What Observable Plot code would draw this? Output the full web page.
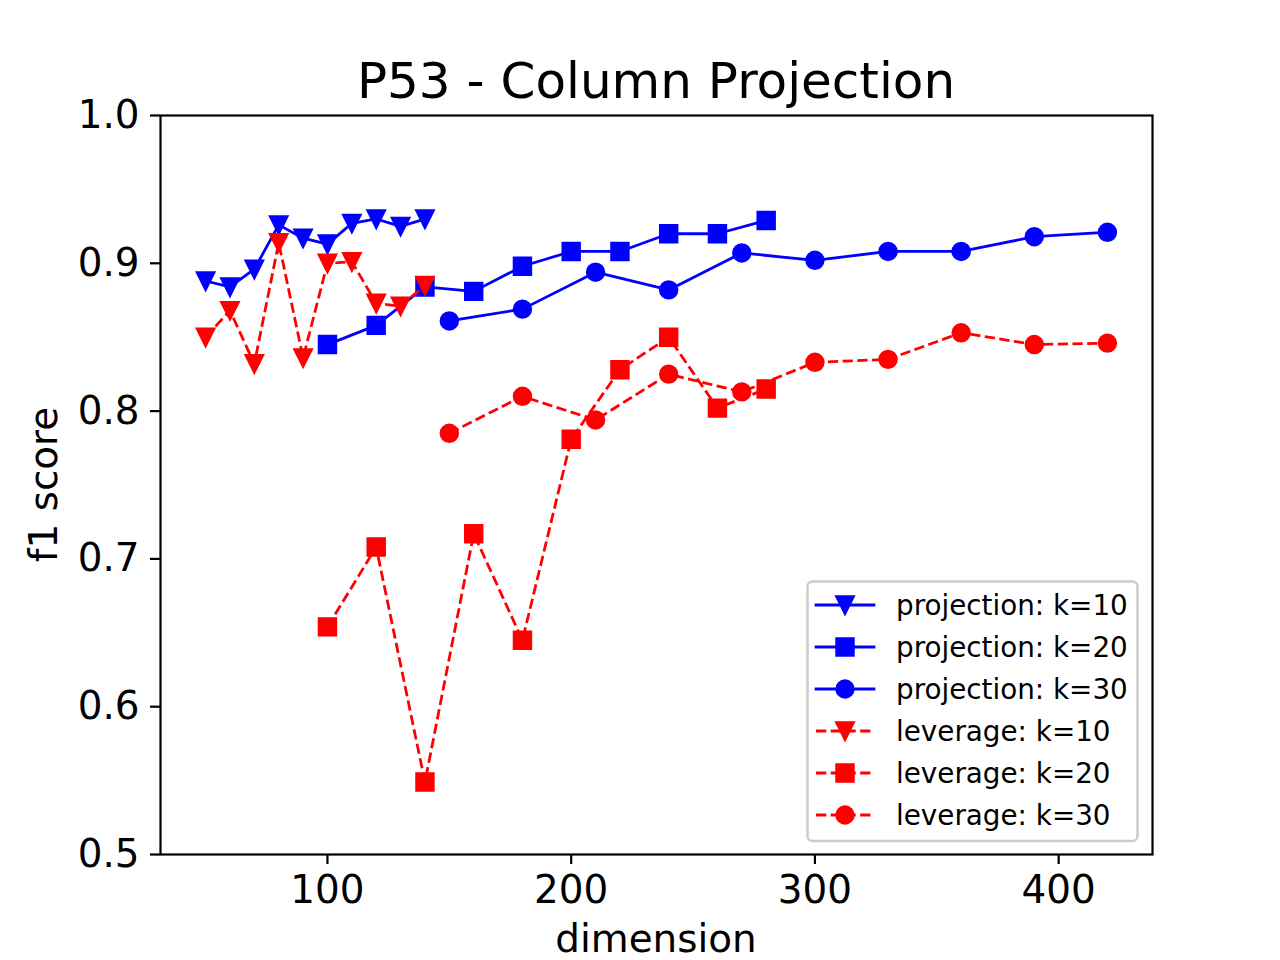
<!DOCTYPE html>
<html><head><meta charset="utf-8">
<script src="https://cdn.jsdelivr.net/npm/d3@7"></script>
<script src="https://cdn.jsdelivr.net/npm/@observablehq/plot@0.6"></script>
<style>html,body{margin:0;padding:0;background:#fff;} svg{display:block}</style>
</head><body><div id="chart"></div>
<script>
// ---- data ----
const dimK10 = [50, 60, 70, 80, 90, 100, 110, 120, 130, 140];
const dimK20 = [100, 120, 140, 160, 180, 200, 220, 240, 260, 280];
const dimK30 = [150, 180, 210, 240, 270, 300, 330, 360, 390, 420];
const projectionK10 = [0.888, 0.884, 0.896, 0.926, 0.917, 0.913, 0.927, 0.930, 0.925, 0.930];
const projectionK20 = [0.845, 0.858, 0.884, 0.881, 0.898, 0.908, 0.908, 0.920, 0.920, 0.929];
const projectionK30 = [0.861, 0.869, 0.894, 0.882, 0.907, 0.902, 0.908, 0.908, 0.918, 0.921];
const leverageK10 = [0.850, 0.868, 0.832, 0.914, 0.836, 0.900, 0.901, 0.873, 0.871, 0.885];
const leverageK20 = [0.654, 0.708, 0.549, 0.717, 0.645, 0.781, 0.828, 0.850, 0.802, 0.815];
const leverageK30 = [0.785, 0.810, 0.794, 0.825, 0.813, 0.833, 0.835, 0.853, 0.845, 0.846];
const xTicks = [100, 200, 300, 400];
const yTicks = [0.5, 0.6, 0.7, 0.8, 0.9, 1.0];
const seriesLabels = ["projection: k=10", "projection: k=20", "projection: k=30",
                      "leverage: k=10", "leverage: k=20", "leverage: k=30"];
const titleText = "P53 - Column Projection";
const xLabel = "dimension";
const yLabel = "f1 score";

// ---- styling ----
const FONT = "DejaVu Sans";
const LW = 2.78, MS = 8.33, MEW = 2.78;
const DASH = "10.28,4.44";

const triDown = {draw(ctx, size) { const r = Math.sqrt(size / Math.PI);
  ctx.moveTo(0, r); ctx.lineTo(-r, -r); ctx.lineTo(r, -r); ctx.closePath(); }};
const squareSym = {draw(ctx, size) { const r = Math.sqrt(size / Math.PI);
  ctx.moveTo(-r, -r); ctx.lineTo(r, -r); ctx.lineTo(r, r); ctx.lineTo(-r, r); ctx.closePath(); }};
const circleSym = {draw(ctx, size) { const r = Math.sqrt(size / Math.PI);
  ctx.moveTo(r, 0); ctx.arc(0, 0, r, 0, 2 * Math.PI); }};

const series = [
  {label: seriesLabels[0], xs: dimK10, ys: projectionK10, color: "blue", dashed: false, sym: triDown},
  {label: seriesLabels[1], xs: dimK20, ys: projectionK20, color: "blue", dashed: false, sym: squareSym},
  {label: seriesLabels[2], xs: dimK30, ys: projectionK30, color: "blue", dashed: false, sym: circleSym},
  {label: seriesLabels[3], xs: dimK10, ys: leverageK10, color: "red", dashed: true, sym: triDown},
  {label: seriesLabels[4], xs: dimK20, ys: leverageK20, color: "red", dashed: true, sym: squareSym},
  {label: seriesLabels[5], xs: dimK30, ys: leverageK30, color: "red", dashed: true, sym: circleSym}
];

const marks = [];
for (const s of series) {
  const data = s.xs.map((x, i) => ({x, y: s.ys[i]}));
  marks.push(Plot.line(data, {x: "x", y: "y", stroke: s.color, strokeWidth: LW,
    strokeDasharray: s.dashed ? DASH : null,
    strokeLinecap: s.dashed ? "butt" : "square", strokeLinejoin: "round"}));
  marks.push(Plot.dot(data, {x: "x", y: "y", symbol: s.sym, r: MS, fill: s.color,
    stroke: s.color, strokeWidth: MEW, strokeLinejoin: "miter"}));
}

const W = 1280, H = 960;
const ML = 160, MR = 128, MT = 115, MB = 106;

const svgEl = Plot.plot({
  width: W, height: H,
  marginLeft: ML, marginRight: MR, marginTop: MT, marginBottom: MB,
  style: {fontFamily: FONT, fontSize: "38.9px", background: "white", color: "black", overflow: "visible"},
  x: {domain: [31.5, 438.5]},
  y: {domain: [0.5, 1.0]},
  marks: [
    ...marks,
    Plot.frame({stroke: "black", strokeWidth: 2.2}),
    Plot.axisX({ticks: xTicks, tickSize: 10, tickPadding: 11, strokeWidth: 2.2, label: null, fontSize: 38.9}),
    Plot.axisY({ticks: yTicks, tickFormat: d3.format(".1f"), tickSize: 10, tickPadding: 11, strokeWidth: 2.2, label: null, fontSize: 38.9})
  ]
});
document.getElementById("chart").appendChild(svgEl);

const svg = d3.select(svgEl);
const cx = ML + (W - ML - MR) / 2;
svg.append("text").attr("x", cx).attr("y", 98).attr("text-anchor", "middle")
  .attr("font-family", FONT).attr("font-size", 50).attr("fill", "black").text(titleText);
svg.append("text").attr("x", cx).attr("y", 952).attr("text-anchor", "middle")
  .attr("font-family", FONT).attr("font-size", 38.9).attr("fill", "black").text(xLabel);
svg.append("text").attr("transform", `translate(57,${MT + (H - MT - MB) / 2}) rotate(-90)`)
  .attr("text-anchor", "middle")
  .attr("font-family", FONT).attr("font-size", 38.9).attr("fill", "black").text(yLabel);

// ---- legend ----
const lg = svg.append("g");
lg.append("rect").attr("x", 807.5).attr("y", 581.5).attr("width", 330).attr("height", 259.5)
  .attr("rx", 5).attr("fill", "white").attr("fill-opacity", 0.8)
  .attr("stroke", "#cccccc").attr("stroke-width", 2.5);
series.forEach((s, i) => {
  const yy = 605 + i * 42;
  lg.append("line").attr("x1", 816).attr("x2", 874).attr("y1", yy).attr("y2", yy)
    .attr("stroke", s.color).attr("stroke-width", LW)
    .attr("stroke-dasharray", s.dashed ? DASH : null)
    .attr("stroke-linecap", s.dashed ? "butt" : "square");
  lg.append("path").attr("transform", `translate(845,${yy})`)
    .attr("d", d3.symbol(s.sym, Math.PI * MS * MS)())
    .attr("fill", s.color).attr("stroke", s.color).attr("stroke-width", MEW);
  lg.append("text").attr("x", 896).attr("y", yy + 9.5).attr("text-anchor", "start")
    .attr("font-family", FONT).attr("font-size", 27.8).attr("fill", "black").text(s.label);
});
</script>
</body></html>
